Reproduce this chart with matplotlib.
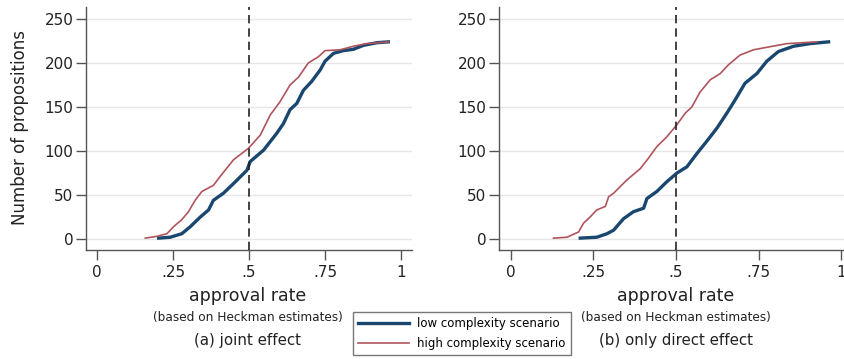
import numpy as np
import matplotlib.pyplot as plt

plt.rcParams['font.family'] = ['DejaVu Sans']

# (a) joint effect
a_low_x = [0.203, 0.241, 0.279, 0.307, 0.34, 0.367, 0.383, 0.416, 0.449, 0.493, 0.504, 0.548, 0.591,
           0.613, 0.635, 0.657, 0.679, 0.706, 0.734, 0.75, 0.778, 0.81, 0.843, 0.876, 0.92, 0.958]
a_low_y = [1, 2, 6, 14, 25, 33, 44, 52, 63, 78, 88, 101, 120,
           131, 147, 154, 169, 179, 192, 202, 211, 214, 215.5, 220, 223, 224]
a_high_x = [0.159, 0.197, 0.23, 0.252, 0.279, 0.301, 0.323, 0.345, 0.383, 0.405, 0.449, 0.498,
            0.537, 0.57, 0.602, 0.635, 0.663, 0.695, 0.728, 0.75, 0.8, 0.843, 0.887, 0.958]
a_high_y = [1, 3, 6, 14, 22, 31, 44, 54, 61, 71, 90, 103,
            118, 141, 156, 175, 184, 200, 207, 214, 215, 219, 222, 224]

# (b) only direct effect
b_low_x = [0.21, 0.26, 0.291, 0.311, 0.341, 0.371, 0.402, 0.412, 0.442, 0.472, 0.503, 0.533,
           0.563, 0.593, 0.624, 0.654, 0.679, 0.709, 0.745, 0.775, 0.81, 0.856, 0.906, 0.962]
b_low_y = [1, 2, 6, 10, 23, 31, 35, 46, 54, 65, 75, 82,
           97, 111, 126, 143, 158, 177, 188, 202, 213, 219, 222, 224]
b_high_x = [0.129, 0.17, 0.205, 0.22, 0.24, 0.26, 0.286, 0.296, 0.311, 0.351, 0.392, 0.417, 0.442,
            0.472, 0.503, 0.528, 0.548, 0.573, 0.604, 0.634, 0.659, 0.694, 0.735, 0.785, 0.836, 0.926]
b_high_y = [1, 2, 8, 18, 25, 33, 37, 48, 52, 67, 80, 92, 105,
            116, 130, 143, 150, 167, 181, 188, 198, 209, 215, 218.5, 222, 224]

xticks = [0, 0.25, 0.5, 0.75, 1]
xticklabels = ['0', '.25', '.5', '.75', '1']
yticks = [0, 50, 100, 150, 200, 250]

navy = '#1a476f'
maroon = '#b0545c'

W, H = 845, 359
fig = plt.figure(figsize=(W / 100, H / 100), dpi=100)

def px(l, t, r, b):
    return [l / W, 1 - b / H, (r - l) / W, (b - t) / H]

ax1 = fig.add_axes(px(86, 7, 412, 250))
ax2 = fig.add_axes(px(499, 7, 853, 250))

panels = [(ax1, a_low_x, a_low_y, a_high_x, a_high_y),
          (ax2, b_low_x, b_low_y, b_high_x, b_high_y)]
for ax, lx, ly, hx, hy in panels:
    for yv in yticks:
        ax.axhline(yv, color='#e6e6e6', lw=1, zorder=0)
    ax.plot(hx, hy, color=maroon, lw=1.2, zorder=3)
    ax.plot(lx, ly, color=navy, lw=2.4, zorder=2)
    ax.axvline(0.5, color='#222222', lw=1.2, ls=(0, (5, 3)), zorder=4)
    ax.set_xlim(-0.036, 1.036)
    ax.set_ylim(-12.5, 263.6)
    ax.set_xticks(xticks)
    ax.set_xticklabels(xticklabels)
    ax.set_yticks(yticks)
    ax.tick_params(axis='both', direction='out', length=7, width=1, color='#555555',
                   labelsize=11, labelcolor='#222222')
    ax.tick_params(axis='x', pad=4)
    ax.tick_params(axis='y', pad=2)
    ax.spines['top'].set_visible(False)
    ax.spines['right'].set_visible(False)
    for s in ['left', 'bottom']:
        ax.spines[s].set_color('#555555')
        ax.spines[s].set_linewidth(1)

fig.text(20 / W, 1 - 128 / H, 'Number of propositions', rotation=90, ha='center', va='center',
         fontsize=12, color='#222222')

for cx, sub in [(248, '(a) joint effect'), (676, '(b) only direct effect')]:
    fig.text(cx / W, 1 - 296 / H, 'approval rate', ha='center', va='center', fontsize=12.5, color='#222222')
    fig.text(cx / W, 1 - 318 / H, '(based on Heckman estimates)', ha='center', va='center',
             fontsize=8.7, color='#222222')
    fig.text(cx / W, 1 - 340 / H, sub, ha='center', va='center', fontsize=10.8, color='#222222')

h1, = ax1.plot([], [], color=navy, lw=2.4)
h2, = ax1.plot([], [], color=maroon, lw=1.2)
leg = fig.legend([h1, h2], ['low complexity scenario', 'high complexity scenario'],
                 loc='upper left', bbox_to_anchor=(353 / W, 1 - 312 / H), fontsize=8.5,
                 frameon=True, fancybox=False, edgecolor='#555555', handlelength=4.3,
                 borderpad=0.45, labelspacing=0.55, handletextpad=0.7, borderaxespad=0)
leg.get_frame().set_linewidth(1)

fig.savefig('out.png', dpi=100)
